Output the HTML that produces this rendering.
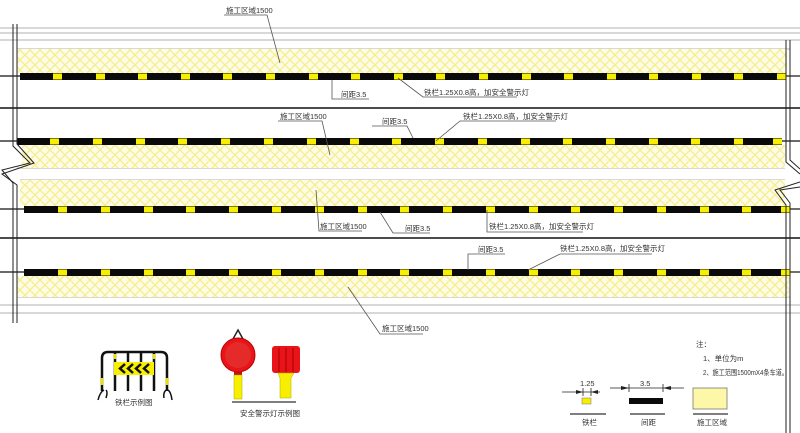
<!DOCTYPE html>
<html><head><meta charset="utf-8"><style>
html,body{margin:0;padding:0;background:#fff;}
svg{display:block;}
text{font-family:"Liberation Sans","Noto Sans CJK SC",sans-serif;font-size:7.5px;fill:#333;}
</style></head><body>
<svg width="800" height="433" viewBox="0 0 800 433" xmlns="http://www.w3.org/2000/svg">
<defs>
<pattern id="h" width="10" height="10" patternUnits="userSpaceOnUse">
<rect width="10" height="10" fill="#fefce6"/>
<path d="M0 0L10 10M10 0L0 10" stroke="#f4ee8a" stroke-width="1.2"/>
</pattern>
</defs>
<rect width="800" height="433" fill="#fff"/>
<g stroke="#b0b0b0" stroke-width="1">
<line x1="0" y1="28" x2="800" y2="28"/><line x1="0" y1="33" x2="800" y2="33"/><line x1="0" y1="40" x2="800" y2="40"/>
<line x1="17" y1="49" x2="790" y2="49"/>
<line x1="17" y1="168" x2="785" y2="168"/><line x1="20" y1="180" x2="785" y2="180"/>
<line x1="17" y1="297" x2="790" y2="297"/><line x1="0" y1="305" x2="800" y2="305"/><line x1="0" y1="313" x2="800" y2="313"/>
</g>
<rect x="17" y="49" width="770" height="24" fill="url(#h)"/>
<rect x="22" y="145" width="763" height="23" fill="url(#h)"/>
<rect x="20" y="180" width="765" height="26" fill="url(#h)"/>
<rect x="17" y="276" width="772" height="21" fill="url(#h)"/>
<line x1="0" y1="108" x2="800" y2="108" stroke="#111" stroke-width="1.5"/>
<line x1="0" y1="238" x2="800" y2="238" stroke="#111" stroke-width="1.5"/>
<g stroke="#111" stroke-width="1.2">
<line x1="0" y1="76" x2="20" y2="76"/><line x1="786" y1="76" x2="800" y2="76"/>
<line x1="0" y1="141" x2="17" y2="141"/><line x1="782" y1="141" x2="800" y2="141"/>
<line x1="0" y1="209" x2="24" y2="209"/><line x1="790" y1="209" x2="800" y2="209"/>
<line x1="0" y1="272" x2="24" y2="272"/><line x1="790" y1="272" x2="800" y2="272"/>
</g>
<rect x="20" y="73" width="766" height="7" fill="#0a0a0a"/>
<rect x="17" y="138" width="765" height="7" fill="#0a0a0a"/>
<rect x="24" y="206" width="766" height="7" fill="#0a0a0a"/>
<rect x="24" y="269" width="766" height="7" fill="#0a0a0a"/>
<g fill="#f8ef00">
<rect x="53" y="73.5" width="9" height="6"/><rect x="96" y="73.5" width="9" height="6"/><rect x="138" y="73.5" width="9" height="6"/><rect x="181" y="73.5" width="9" height="6"/><rect x="223" y="73.5" width="9" height="6"/><rect x="266" y="73.5" width="9" height="6"/><rect x="309" y="73.5" width="9" height="6"/><rect x="351" y="73.5" width="9" height="6"/><rect x="394" y="73.5" width="9" height="6"/><rect x="436" y="73.5" width="9" height="6"/><rect x="479" y="73.5" width="9" height="6"/><rect x="522" y="73.5" width="9" height="6"/><rect x="564" y="73.5" width="9" height="6"/><rect x="607" y="73.5" width="9" height="6"/><rect x="649" y="73.5" width="9" height="6"/><rect x="692" y="73.5" width="9" height="6"/><rect x="734" y="73.5" width="9" height="6"/><rect x="777" y="73.5" width="9" height="6"/>
<rect x="50" y="138.5" width="9" height="6"/><rect x="93" y="138.5" width="9" height="6"/><rect x="136" y="138.5" width="9" height="6"/><rect x="178" y="138.5" width="9" height="6"/><rect x="221" y="138.5" width="9" height="6"/><rect x="264" y="138.5" width="9" height="6"/><rect x="307" y="138.5" width="9" height="6"/><rect x="350" y="138.5" width="9" height="6"/><rect x="392" y="138.5" width="9" height="6"/><rect x="435" y="138.5" width="9" height="6"/><rect x="478" y="138.5" width="9" height="6"/><rect x="521" y="138.5" width="9" height="6"/><rect x="563" y="138.5" width="9" height="6"/><rect x="606" y="138.5" width="9" height="6"/><rect x="649" y="138.5" width="9" height="6"/><rect x="691" y="138.5" width="9" height="6"/><rect x="734" y="138.5" width="9" height="6"/><rect x="773" y="138.5" width="9" height="6"/>
<rect x="58" y="206.5" width="9" height="6"/><rect x="101" y="206.5" width="9" height="6"/><rect x="144" y="206.5" width="9" height="6"/><rect x="186" y="206.5" width="9" height="6"/><rect x="229" y="206.5" width="9" height="6"/><rect x="272" y="206.5" width="9" height="6"/><rect x="315" y="206.5" width="9" height="6"/><rect x="358" y="206.5" width="9" height="6"/><rect x="400" y="206.5" width="9" height="6"/><rect x="443" y="206.5" width="9" height="6"/><rect x="486" y="206.5" width="9" height="6"/><rect x="529" y="206.5" width="9" height="6"/><rect x="571" y="206.5" width="9" height="6"/><rect x="614" y="206.5" width="9" height="6"/><rect x="657" y="206.5" width="9" height="6"/><rect x="700" y="206.5" width="9" height="6"/><rect x="742" y="206.5" width="9" height="6"/><rect x="781" y="206.5" width="9" height="6"/>
<rect x="58" y="269.5" width="9" height="6"/><rect x="101" y="269.5" width="9" height="6"/><rect x="144" y="269.5" width="9" height="6"/><rect x="186" y="269.5" width="9" height="6"/><rect x="229" y="269.5" width="9" height="6"/><rect x="272" y="269.5" width="9" height="6"/><rect x="315" y="269.5" width="9" height="6"/><rect x="358" y="269.5" width="9" height="6"/><rect x="400" y="269.5" width="9" height="6"/><rect x="443" y="269.5" width="9" height="6"/><rect x="486" y="269.5" width="9" height="6"/><rect x="529" y="269.5" width="9" height="6"/><rect x="571" y="269.5" width="9" height="6"/><rect x="614" y="269.5" width="9" height="6"/><rect x="657" y="269.5" width="9" height="6"/><rect x="700" y="269.5" width="9" height="6"/><rect x="742" y="269.5" width="9" height="6"/><rect x="781" y="269.5" width="9" height="6"/>
</g>
<g fill="none" stroke="#222" stroke-width="1">
<polyline points="13,24 13,146 30,163 2,170 13,183 13,323"/>
<polyline points="17,24 17,144 34,163 2,174 17,185 17,323"/>
<polyline points="786,40 786,162 800,174"/>
<polyline points="790,40 790,160 800,169"/>
<polyline points="800,182 775,190 786,205 786,433"/>
<polyline points="800,187 780,190 790,203 790,433"/>
</g>
<g stroke="#555" stroke-width="0.8" fill="none">
<polyline points="224,15 267,15 280,63"/>
<polyline points="332,80 332,99 369,99"/>
<polyline points="517,97 423,97 398,78"/>
<polyline points="278,121 322,121 330,155"/>
<polyline points="372,126 407,126 413,138"/>
<polyline points="556,121 460,121 436,141"/>
<polyline points="316,190 319,231 362,231"/>
<polyline points="380,212 393,233 430,233"/>
<polyline points="487,210 487,232 583,232"/>
<polyline points="468,270 468,254 505,254"/>
<polyline points="528,270 560,254 652,254"/>
<polyline points="348,287 380,334 423,334"/>
</g>
<text x="226" y="13">施工区域1500</text>
<text x="341" y="97">间距3.5</text>
<text x="424" y="95">铁栏1.25X0.8高，加安全警示灯</text>
<text x="280" y="119">施工区域1500</text>
<text x="382" y="124">间距3.5</text>
<text x="463" y="119">铁栏1.25X0.8高，加安全警示灯</text>
<text x="320" y="229">施工区域1500</text>
<text x="405" y="231">间距3.5</text>
<text x="489" y="229">铁栏1.25X0.8高，加安全警示灯</text>
<text x="478" y="252">间距3.5</text>
<text x="560" y="251">铁栏1.25X0.8高，加安全警示灯</text>
<text x="382" y="331">施工区域1500</text>
<g>
<path d="M102 391 L102 358 Q102 352 108 352 L161 352 Q167 352 167 358 L167 391" fill="none" stroke="#111" stroke-width="2.5"/>
<g stroke="#111" stroke-width="2.5"><line x1="115" y1="352" x2="115" y2="391"/><line x1="128" y1="352" x2="128" y2="391"/><line x1="141" y1="352" x2="141" y2="391"/><line x1="154" y1="352" x2="154" y2="391"/></g>
<rect x="114" y="362" width="40" height="13" fill="#f8ef00"/>
<g fill="none" stroke="#111" stroke-width="2.5"><polyline points="125,364 120,368.5 125,373"/><polyline points="133,364 128,368.5 133,373"/><polyline points="141,364 136,368.5 141,373"/><polyline points="149,364 144,368.5 149,373"/></g>
<g stroke="#e8e000" stroke-width="2.5"><line x1="102" y1="378" x2="102" y2="385"/><line x1="167" y1="378" x2="167" y2="385"/><line x1="115" y1="354" x2="115" y2="359"/><line x1="154" y1="354" x2="154" y2="359"/></g>
<path d="M98 400 Q100 392 104 390 M106 390 Q108 392 106 398 M166 390 Q163 393 164 398 M168 390 Q171 392 172 400" fill="none" stroke="#111" stroke-width="1.5"/>
</g>
<text x="115" y="405">铁栏示例图</text>
<path d="M233 339 L238 330 L243 339" fill="none" stroke="#222" stroke-width="1.5"/>
<circle cx="238" cy="355" r="17" fill="#e8141a" stroke="#b00" stroke-width="1"/>
<circle cx="238" cy="355" r="13" fill="#e52a2a"/>
<rect x="234" y="371" width="8" height="4" fill="#c01010"/>
<rect x="234" y="375" width="8" height="24" fill="#f8ef00" stroke="#aa0" stroke-width="0.5"/>
<rect x="272" y="346" width="28" height="27" rx="3" fill="#e8141a"/>
<g stroke="#a00" stroke-width="1"><line x1="279" y1="348" x2="279" y2="372"/><line x1="286" y1="348" x2="286" y2="372"/><line x1="293" y1="348" x2="293" y2="372"/></g>
<path d="M278 373 L294 373 L291 378 L291 398 L280 398 L280 378 Z" fill="#f8ef00" stroke="#aa0" stroke-width="0.5"/>
<line x1="232" y1="402" x2="296" y2="402" stroke="#555" stroke-width="1.5"/>
<text x="240" y="416">安全警示灯示例图</text>
<text x="696" y="347">注：</text>
<text x="703" y="361">1、单位为m</text>
<text x="703" y="375" textLength="85" lengthAdjust="spacingAndGlyphs">2、施工范围1500mX4条车道。</text>
<g stroke="#222" stroke-width="0.8">
<line x1="562" y1="392" x2="600" y2="392"/><line x1="583" y1="388" x2="583" y2="396"/><line x1="591" y1="388" x2="591" y2="396"/>
<line x1="610" y1="388" x2="684" y2="388"/><line x1="629" y1="384" x2="629" y2="392"/><line x1="663" y1="384" x2="663" y2="392"/>
</g>
<path d="M576 390 L583 392 L576 394 Z M598 390 L591 392 L598 394 Z M621 386 L629 388 L621 390 Z M671 386 L663 388 L671 390 Z" fill="#222"/>
<text x="580" y="386">1.25</text>
<text x="640" y="386">3.5</text>
<rect x="582" y="398" width="9" height="6" fill="#f8ef00" stroke="#777" stroke-width="0.5"/>
<rect x="629" y="398" width="34" height="6" fill="#0a0a0a"/>
<rect x="693" y="388" width="34" height="21" fill="#fdf7a8" stroke="#777" stroke-width="0.8"/>
<g stroke="#555" stroke-width="1.5"><line x1="570" y1="414" x2="606" y2="414"/><line x1="630" y1="414" x2="665" y2="414"/><line x1="693" y1="414" x2="728" y2="414"/></g>
<text x="582" y="425">铁栏</text>
<text x="641" y="425">间距</text>
<text x="697" y="425">施工区域</text>
</svg>
</body></html>
